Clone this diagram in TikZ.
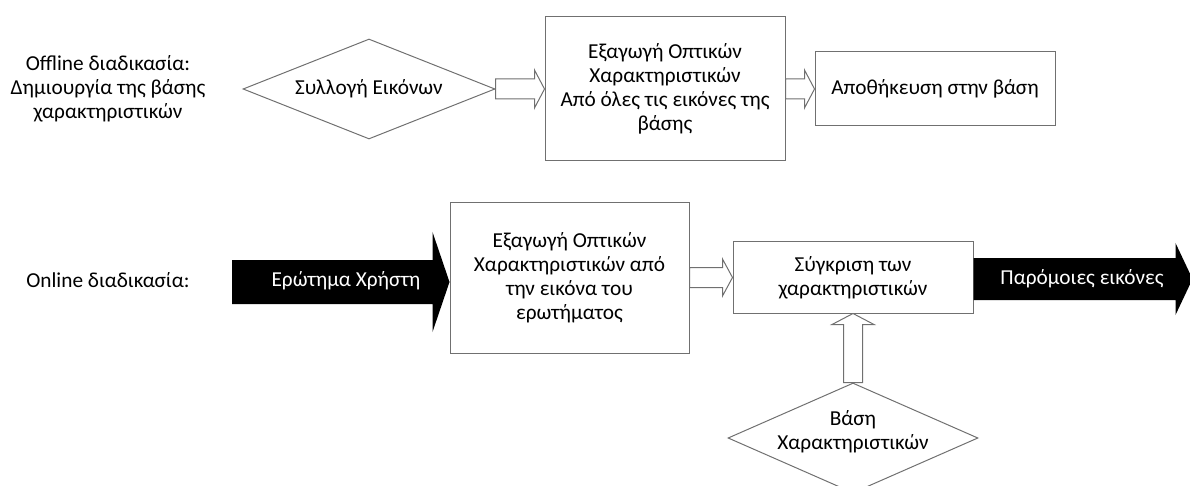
\documentclass[tikz,border=0pt]{standalone}
\usepackage{fontspec}
\setmainfont{Carlito}
\usetikzlibrary{shapes.geometric,calc}
\definecolor{edge}{RGB}{112,112,112}

\begin{document}
\begin{tikzpicture}[x=1pt,y=-1pt,
  every node/.style={font=\fontsize{21.3}{24}\selectfont, align=center},
  box/.style={draw=edge, line width=1pt, inner sep=0pt},
  dia/.style={diamond, draw=edge, line width=1pt, inner sep=0pt},
  hollow/.style={draw=edge, line width=1pt, fill=white, line join=miter},
  solid arrow/.style={fill=black, draw=none},
  caption/.style={text=white}]
\useasboundingbox (0,0) rectangle (1190,486);

% ---------- offline stage ----------
\node (offl) at (108,89) {Offline διαδικασία:\\Δημιουργία της βάσης\\χαρακτηριστικών};

\node[dia, minimum width=252pt, minimum height=100pt] (coll) at (369,89) {};
\node at (coll.center) {Συλλογή Εικόνων};

\node[box, minimum width=240pt, minimum height=144pt] (extr) at (665,89)
  {Εξαγωγή Οπτικών\\Χαρακτηριστικών\\Από όλες τις εικόνες της\\βάσης};

\node[box, minimum width=240pt, minimum height=74pt] (store) at (935,89)
  {Αποθήκευση στην βάση};

% block arrows of the offline stage
\draw[hollow] ($(coll.east)+(0,-10)$) -- ($(extr.west)+(-10,-10)$)
  -- ($(extr.west)+(-10,-19)$) -- (extr.west) -- ($(extr.west)+(-10,19)$)
  -- ($(extr.west)+(-10,10)$) -- ($(coll.east)+(0,10)$) -- cycle;
\draw[hollow] ($(extr.east)+(0,-10)$) -- ($(store.west)+(-10,-10)$)
  -- ($(store.west)+(-10,-19)$) -- (store.west) -- ($(store.west)+(-10,19)$)
  -- ($(store.west)+(-10,10)$) -- ($(extr.east)+(0,10)$) -- cycle;

% ---------- online stage ----------
\node (onl) at (108,280) {Online διαδικασία:};

\node[box, minimum width=239pt, minimum height=150pt] (qext) at (569.5,278)
  {Εξαγωγή Οπτικών\\Χαρακτηριστικών από\\την εικόνα του\\ερωτήματος};

\node[box, minimum width=240pt, minimum height=71pt] (cmp) at (853,277.5)
  {Σύγκριση των\\χαρακτηριστικών};

\node[dia, minimum width=250pt, minimum height=110pt] (fdb) at (853,438) {};
\node at ($(fdb.center)+(0,-6)$) {Βάση\\Χαρακτηριστικών};

% query arrow
\coordinate (qstart) at (232,282);
\coordinate (qtip) at ($(qext.west)+(0,4)$);
\fill[solid arrow] ($(qstart)+(0,-22)$) -- ($(qtip)+(-17,-22)$) -- ($(qtip)+(-17,-50)$)
  -- (qtip) -- ($(qtip)+(-17,50)$) -- ($(qtip)+(-17,22)$) -- ($(qstart)+(0,22)$) -- cycle;
\node[caption] (qlbl) at (346,281) {Ερώτημα Χρήστη};

% result arrow
\coordinate (rtip) at ($(cmp.east)+(219,1.5)$);
\fill[solid arrow] ($(cmp.east)+(0,-19.5)$) -- ($(rtip)+(-17,-21)$) -- ($(rtip)+(-17,-36)$)
  -- (rtip) -- ($(rtip)+(-17,36)$) -- ($(rtip)+(-17,21)$) -- ($(cmp.east)+(0,22.5)$) -- cycle;
\node[caption] (rlbl) at (1082,279) {Παρόμοιες εικόνες};

% feature extraction to comparison
\draw[hollow] ($(qext.east |- cmp.west)+(0,-10)$) -- ($(cmp.west)+(-10,-10)$)
  -- ($(cmp.west)+(-10,-18.5)$) -- (cmp.west) -- ($(cmp.west)+(-10,18.5)$)
  -- ($(cmp.west)+(-10,10)$) -- ($(qext.east |- cmp.west)+(0,10)$) -- cycle;

% feature base to comparison
\draw[hollow] ($(fdb.north)+(-9.5,0)$) -- ($(cmp.south)+(-9.5,11)$)
  -- ($(cmp.south)+(-21,11)$) -- (cmp.south) -- ($(cmp.south)+(21,11)$)
  -- ($(cmp.south)+(9.5,11)$) -- ($(fdb.north)+(9.5,0)$) -- cycle;
\end{tikzpicture}
\end{document}
